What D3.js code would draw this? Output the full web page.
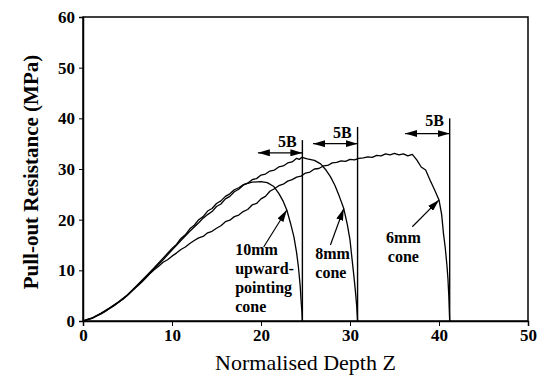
<!DOCTYPE html>
<html>
<head>
<meta charset="utf-8">
<script src="https://cdn.jsdelivr.net/npm/d3@7"></script>
<style>
  body { margin: 0; background: #fff; }
  svg text { font-family: "Liberation Serif", "DejaVu Serif", serif !important; fill: #000; }
</style>
</head>
<body>
<svg id="chart" width="549" height="377"></svg>
<script>
// pull-out curves, [normalised depth Z, resistance MPa]
var cone10 = [[0,0],[1,0.6],[2,1.5],[3,2.6],[4,3.8],[5,5.2],[6,6.9],[7,8.7],[8,10.5],[9,12.4],
  [10,14.3],[10.5,15.1],[11,16.3],[11.5,17.0],[12,18.2],[12.5,18.9],[13,20.0],[13.5,20.6],[14,21.7],
  [14.5,22.2],[15,23.2],[15.5,23.7],[16,24.6],[16.5,25.1],[17,25.9],[17.5,26.3],[18,26.9],
  [19,27.4],[20,27.5],[20.7,27.3],[21.4,26.6],[22.0,25.2],[22.5,23.6],[22.9,21.9],[23.3,19.4],
  [23.7,16.6],[24.0,13.5],[24.2,10.7],[24.4,7.0],[24.5,4.1],[24.6,1.8],[24.65,0]];

var cone8 = [[0,0],[1,0.5],[2,1.4],[3,2.5],[4,3.7],[5,5.1],[6,6.8],[7,8.5],[8,10.3],[9,12.1],
  [10,14.0],[11,15.9],[12,17.7],[13,19.4],[13.5,20.3],[14,21.0],[14.5,21.6],[15,22.6],[15.5,23.1],
  [16,24.1],[16.5,24.6],[17,25.5],[17.5,26.0],[18,26.8],[18.5,27.2],[19,27.9],[19.5,28.1],[20,28.8],
  [20.5,29.0],[21,29.6],[21.5,29.8],[22,30.4],[22.5,30.6],[23,31.2],[23.5,31.4],[24,32.1],[24.3,31.9],
  [24.6,32.3],[25.2,32.0],[26,31.7],[26.7,31.0],[27.3,29.8],[27.8,28.5],[28.3,26.8],[28.8,24.6],
  [29.3,22.2],[29.7,19.0],[30.0,16.0],[30.2,12.7],[30.4,9.5],[30.6,6.0],[30.75,3.0],[30.85,0]];

var cone6 = [[0,0],[0.5,0.3],[1,0.5],[1.5,1.0],[2,1.4],[2.5,1.9],[3,2.5],[3.5,3.0],[4,3.7],[4.5,4.3],
  [5,5.1],[5.5,5.9],[6,6.7],[6.5,7.5],[7,8.4],[7.5,9.3],[8,10.1],[8.5,10.8],[9,11.6],[9.5,12.1],
  [10,12.8],[10.5,13.4],[11,14.1],[11.5,14.6],[12,15.3],[12.5,15.9],[13,16.4],[13.5,16.7],[14,17.4],
  [14.5,17.7],[15,18.3],[15.5,18.8],[16,19.6],[16.5,19.9],[17,20.6],[17.5,20.9],[18,21.6],[18.5,22.0],
  [19,22.9],[19.5,23.2],[20,24.1],[20.5,24.6],[21,25.6],[21.5,26.1],[22,26.7],[22.5,27.0],[23,27.6],
  [23.5,27.9],[24,28.4],[24.5,28.6],[25,29.2],[25.5,29.4],[26,30.0],[26.5,30.1],[27,30.6],[27.5,30.7],
  [28,31.2],[28.5,31.3],[29,31.6],[29.5,31.5],[30,31.9],[30.5,31.8],[31,32.1],[31.5,32.2],[32,32.4],
  [32.5,32.3],[33,32.7],[33.5,32.6],[34,33.0],[34.5,32.8],[35,33.1],[35.5,32.8],[36,33.0],[36.5,32.6],
  [37,32.9],[37.5,31.8],[38,30.4],[38.5,29.8],[39,27.8],[39.5,25.9],[40,23.9],[40.3,21.0],[40.5,17.3],
  [40.7,14.5],[40.9,10.8],[41.0,8.5],[41.1,5.0],[41.2,0]];

// failure depths (vertical lines) with their top values, and 5B arrows
var failDepth = [24.65, 30.85, 41.2];
var failTop = [35.7, 38.3, 40.0];
var arrowY = [33.2, 35.0, 37.0];
var labelY = [34.4, 36.2, 38.5];
var spanB = 5;

// curve labels: text lines, anchor, pointer from -> to
var curveLabels = [
  { lines: ["10mm", "upward-", "pointing", "cone"], x: 17.1, y: 13.0, anchor: "start", from: [20.3, 14.6], to: [22.9, 21.9] },
  { lines: ["8mm", "cone"], x: 26.1, y: 12.3, anchor: "start", from: [27.8, 15.0], to: [29.3, 22.2] },
  { lines: ["6mm", "cone"], x: 36.0, y: 15.3, anchor: "middle", from: [37.0, 18.6], to: [40.0, 23.9] }
];

var xTicks = [0, 10, 20, 30, 40, 50];
var yTicks = [0, 10, 20, 30, 40, 50, 60];

var margin = { top: 17, right: 21, bottom: 56, left: 83 };
var width = 549 - margin.left - margin.right;
var height = 377 - margin.top - margin.bottom;

var svg = d3.select("#chart")
  .append("g")
  .attr("transform", "translate(" + margin.left + "," + margin.top + ")");

var defs = d3.select("#chart").append("defs");
defs.append("marker")
  .attr("id", "head")
  .attr("viewBox", "0 0 12 7")
  .attr("refX", 12).attr("refY", 3.5)
  .attr("markerWidth", 12).attr("markerHeight", 7)
  .attr("markerUnits", "userSpaceOnUse")
  .attr("orient", "auto-start-reverse")
  .append("path")
  .attr("d", "M0,0L12,3.5L0,7Z")
  .attr("fill", "#000");

var x = d3.scaleLinear().domain([0, 50]).range([0, width]);
var y = d3.scaleLinear().domain([0, 60]).range([height, 0]);

// frame
svg.append("rect")
  .attr("width", width).attr("height", height)
  .attr("fill", "none").attr("stroke", "#000").attr("stroke-width", 1.5);

var xAxis = d3.axisBottom(x).tickValues(xTicks).tickSize(5).tickPadding(3);
var yAxis = d3.axisLeft(y).tickValues(yTicks).tickSize(4).tickPadding(4);

var gx = svg.append("g")
  .attr("class", "x axis")
  .attr("transform", "translate(0," + height + ")")
  .call(xAxis);
var gy = svg.append("g")
  .attr("class", "y axis")
  .call(yAxis);

[gx, gy].forEach(function(g) {
  g.attr("font-family", null);
  g.select(".domain").attr("stroke-width", 1.5);
  g.selectAll("text")
    .style("font-size", "17px")
    .style("font-weight", "bold")
    .attr("fill", "#000");
});

// curves
var line = d3.line()
  .x(function(d) { return x(d[0]); })
  .y(function(d) { return y(d[1]); });

svg.selectAll(".curve")
  .data([cone10, cone8, cone6])
  .enter()
  .append("path")
  .attr("class", "curve")
  .attr("d", line)
  .attr("fill", "none")
  .attr("stroke", "#000")
  .attr("stroke-width", 1.3)
  .attr("stroke-linejoin", "round");

// failure lines
svg.selectAll(".fail")
  .data(failDepth)
  .enter()
  .append("line")
  .attr("class", "fail")
  .attr("x1", function(d) { return x(d); })
  .attr("x2", function(d) { return x(d); })
  .attr("y1", y(0))
  .attr("y2", function(d, i) { return y(failTop[i]); })
  .attr("stroke", "#000")
  .attr("stroke-width", 1.4);

// 5B arrows
svg.selectAll(".span")
  .data(failDepth)
  .enter()
  .append("line")
  .attr("class", "span")
  .attr("x1", function(d) { return x(d - spanB); })
  .attr("x2", function(d) { return x(d); })
  .attr("y1", function(d, i) { return y(arrowY[i]); })
  .attr("y2", function(d, i) { return y(arrowY[i]); })
  .attr("stroke", "#000")
  .attr("stroke-width", 1.2)
  .attr("marker-start", "url(#head)")
  .attr("marker-end", "url(#head)");

svg.selectAll(".spanLabel")
  .data(failDepth)
  .enter()
  .append("text")
  .attr("class", "spanLabel")
  .attr("x", function(d) { return x(d - 1.7); })
  .attr("y", function(d, i) { return y(labelY[i]); })
  .attr("text-anchor", "middle")
  .style("font-size", "16px")
  .style("font-weight", "bold")
  .text("5B");

// curve labels with pointers
var lab = svg.selectAll(".curveLabel")
  .data(curveLabels)
  .enter()
  .append("g")
  .attr("class", "curveLabel");

lab.append("line")
  .attr("x1", function(d) { return x(d.from[0]); })
  .attr("y1", function(d) { return y(d.from[1]); })
  .attr("x2", function(d) { return x(d.to[0]); })
  .attr("y2", function(d) { return y(d.to[1]); })
  .attr("stroke", "#000")
  .attr("stroke-width", 1.2)
  .attr("marker-end", "url(#head)");

lab.append("text")
  .attr("text-anchor", function(d) { return d.anchor; })
  .style("font-size", "16px")
  .style("font-weight", "bold")
  .each(function(d) {
    var t = d3.select(this);
    d.lines.forEach(function(s, i) {
      t.append("tspan")
        .attr("x", x(d.x))
        .attr("y", y(d.y) + i * 19)
        .text(s);
    });
  });

// axis titles
svg.append("text")
  .attr("x", width / 2)
  .attr("y", height + 49)
  .attr("text-anchor", "middle")
  .style("font-size", "22px")
  .text("Normalised Depth Z");

svg.append("text")
  .attr("transform", "translate(" + (-45) + "," + (155) + ") rotate(-90)")
  .attr("text-anchor", "middle")
  .style("font-size", "21px")
  .style("font-weight", "bold")
  .text("Pull-out Resistance (MPa)");
</script>
</body>
</html>
